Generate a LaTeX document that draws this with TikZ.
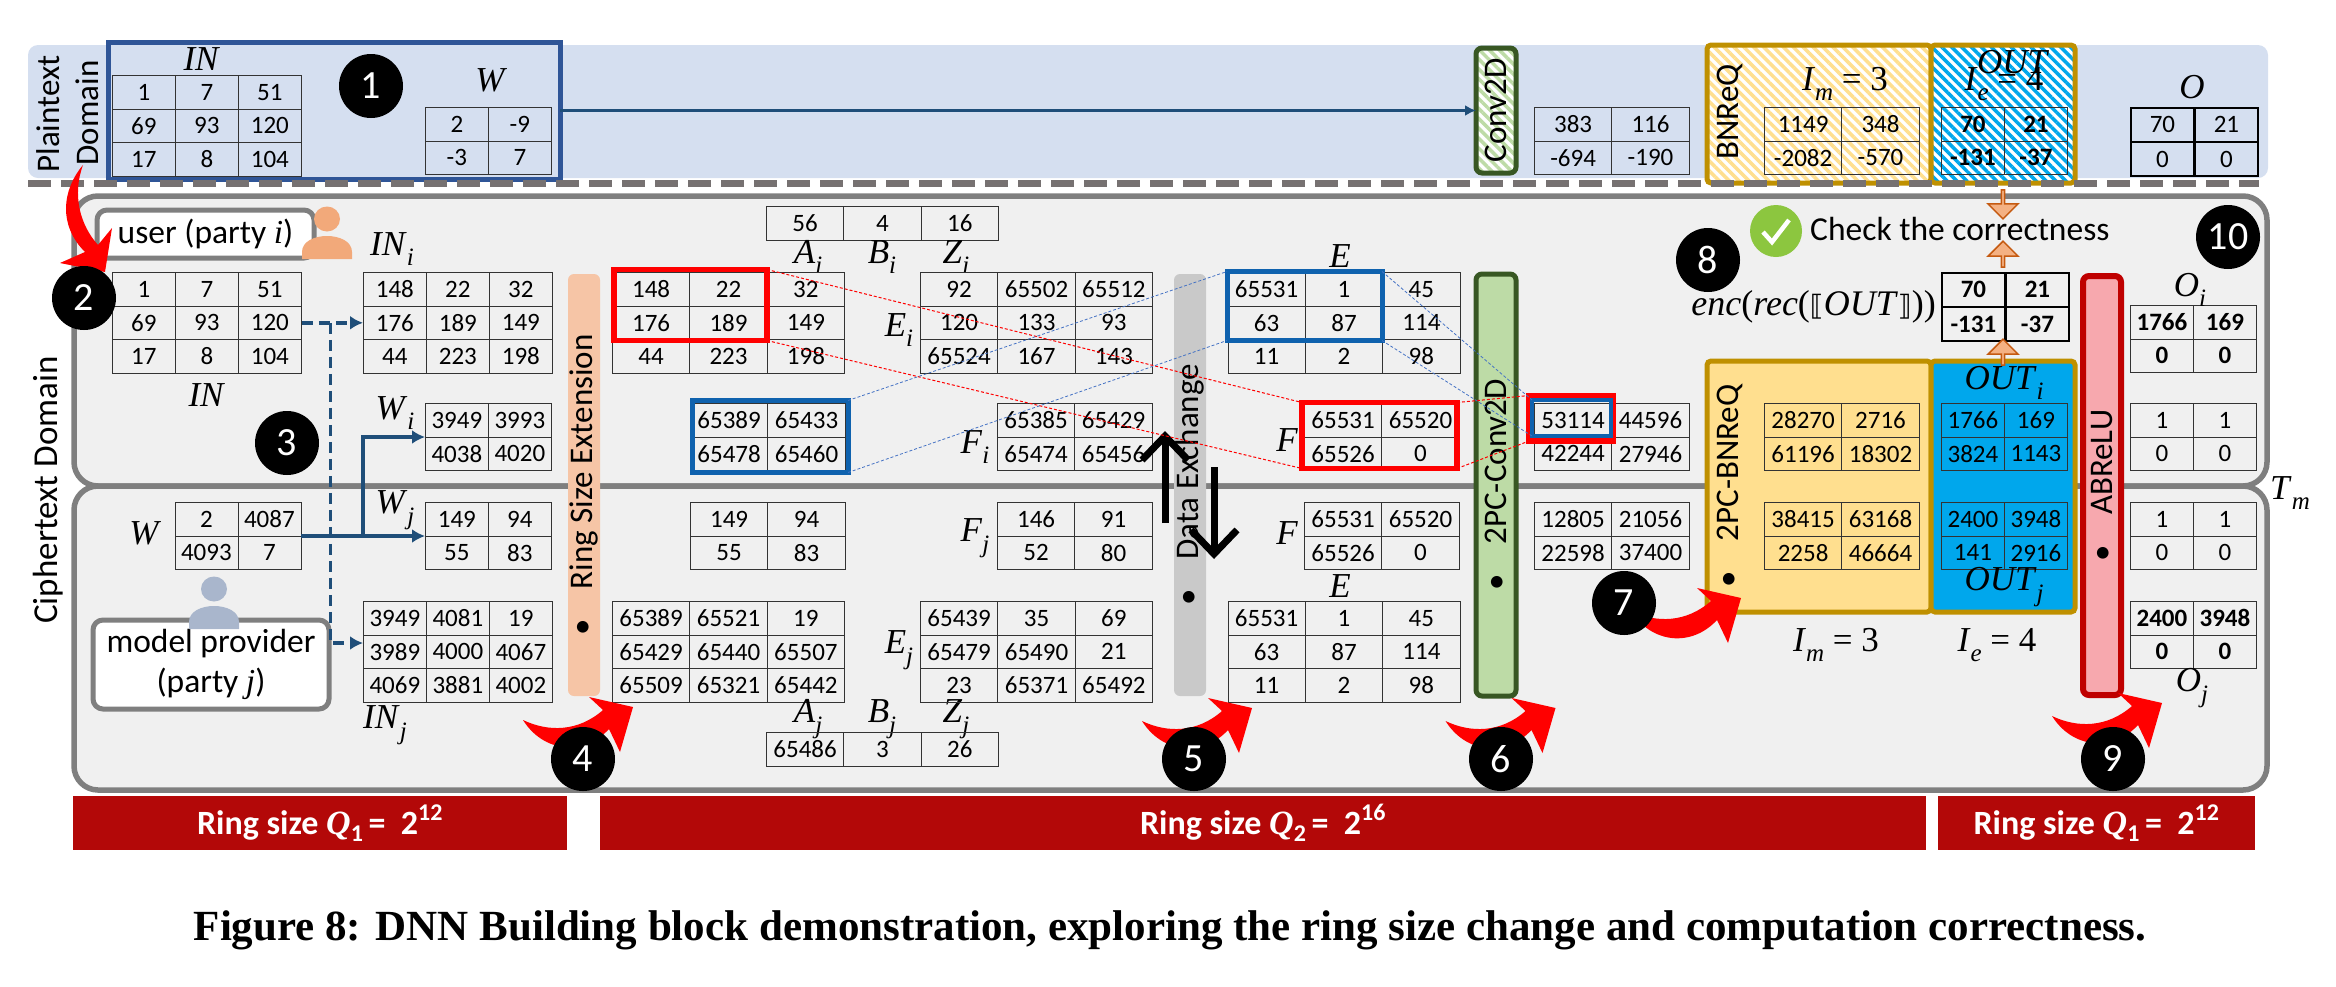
\documentclass[tikz,border=0pt]{standalone}
\usepackage{fontspec}
\setmainfont{Carlito}
\newfontfamily\symfont{Liberation Serif}
\newfontfamily\bracketfont{DejaVu Sans}
\usetikzlibrary{shapes.geometric}
\usetikzlibrary{shapes.arrows}
\usetikzlibrary{positioning}
\usetikzlibrary{arrows.meta}
\usetikzlibrary{matrix}
\usetikzlibrary{patterns.meta}

\definecolor{bandblue}{HTML}{D5DFF0}
\definecolor{boxblue}{HTML}{2F5597}
\definecolor{linkblue}{HTML}{1F4E79}
\definecolor{domaingray}{HTML}{7F7F7F}
\definecolor{panelgray}{HTML}{F0F0F0}
\definecolor{dashgray}{HTML}{767171}
\definecolor{gold}{HTML}{BF9000}
\definecolor{softyellow}{HTML}{FFDF8F}
\definecolor{skyblue}{HTML}{00A7EC}
\definecolor{hlblue}{HTML}{0F62AE}
\definecolor{guideblue}{HTML}{4472C4}
\definecolor{peach}{HTML}{F6C5A6}
\definecolor{barpink}{HTML}{F7A8AE}
\definecolor{bargreen}{HTML}{BDDBA6}
\definecolor{darkgreen}{HTML}{385723}
\definecolor{bargray}{HTML}{C9C9C9}
\definecolor{ringred}{HTML}{B30808}
\definecolor{orangefill}{HTML}{F4B183}
\definecolor{orangeline}{HTML}{C55A11}
\definecolor{checkgreen}{HTML}{8CC63F}
\definecolor{userorange}{HTML}{F2A97A}
\definecolor{usergray}{HTML}{A9B6CC}

\newcommand{\symsub}[2]{{\symfont\textit{#1}\raisebox{-.3em}{\fontsize{25}{25}\selectfont\textit{#2}}}}
\newcommand{\ringlabel}[2]{Ring size {\symfont\textit{Q}}\raisebox{-.2em}{\fontsize{24}{24}\selectfont #1}\,=\ \ 2\raisebox{.42em}{\fontsize{24}{24}\selectfont #2}}

\begin{document}
\begin{tikzpicture}[x=1pt,y=-1pt]
	\tikzset{
		grid/.style={matrix of nodes, anchor=north west, inner sep=0pt, outer sep=0pt, row sep=-0.8pt, column sep=-0.8pt,
			nodes={draw=black!80, line width=0.8pt, minimum height=33.6pt, inner sep=0pt, outer sep=0pt, anchor=center, font=\fontsize{25}{30}\selectfont}},
		narrow/.style={nodes={minimum width=63pt}},
		wide/.style={nodes={minimum width=77.4pt}},
		boldcell/.style={nodes={font=\fontsize{25}{30}\selectfont\bfseries}},
		heavycell/.style={nodes={line width=1.8pt, draw=black}},
		box/.style={rectangle, anchor=north west, outer sep=0pt, inner sep=0pt},
		panel/.style={box, rounded corners=24pt, draw=domaingray, line width=5.5pt, fill=panelgray},
		goldbox/.style={box, rounded corners=4pt, draw=gold, line width=5pt},
		hatchyellow/.style={preaction={fill=white}, pattern={Lines[angle=-45,distance=7pt,line width=3.5pt]}, pattern color=softyellow},
		hatchblue/.style={preaction={fill=white}, pattern={Lines[angle=-45,distance=7pt,line width=3.5pt]}, pattern color=skyblue},
		hatchgreen/.style={preaction={fill=white}, pattern={Lines[angle=-45,distance=7pt,line width=3.5pt]}, pattern color=bargreen},
		hlred/.style={box, draw=red, line width=5.5pt},
		hlbluebox/.style={box, draw=hlblue, line width=5pt},
		opbar/.style={box, rounded corners=6pt},
		vtext/.style={rotate=90, inner sep=0pt, font=\fontsize{33}{36}\selectfont},
		sym/.style={inner sep=0pt, font=\fontsize{35}{38}\selectfont\symfont\itshape},
		plainsym/.style={inner sep=0pt, font=\fontsize{35}{38}\selectfont\symfont},
		stepcirc/.style={circle, fill=black, text=white, minimum size=64pt, inner sep=0pt, font=\fontsize{40}{40}\selectfont},
		actor/.style={box, rounded corners=10pt, draw=domaingray, line width=5pt, fill=white, align=center, font=\fontsize{33.5}{40}\selectfont},
		ringbar/.style={box, fill=ringred, text=white, minimum height=54pt, font=\fontsize{34}{36}\selectfont\bfseries},
		blockarrow/.style={single arrow, single arrow head extend=6pt, inner sep=0pt, minimum width=30pt, fill=orangefill, draw=orangeline, line width=1.5pt},
		dashlink/.style={line width=3.5pt, color=linkblue, dash pattern=on 11pt off 6pt, -{Latex[length=13pt,width=14pt]}},
		solidlink/.style={line width=4pt, color=linkblue, -{Latex[length=13pt,width=14pt]}},
		exchange/.style={line width=7pt, -{Straight Barb[length=24pt,width=46pt,line width=7pt]}},
		redlink/.style={densely dashed, line width=1pt, color=red},
		bluelink/.style={densely dashed, line width=0.8pt, color=guideblue},
		redcurve/.pic={\fill[red] (-110,13) .. controls (-85,25) and (-55,25) .. (-30,3) -- (-44,-10) -- (0,0) -- (-13,45) -- (-24,22) .. controls (-50,50) and (-90,45) .. cycle;},
		personfig/.pic={\fill[#1] (0,0) ellipse (13pt and 12.5pt); \fill[#1] (-25,40) -- (-25,33) .. controls (-25,22) and (-12,17) .. (0,17) .. controls (12,17) and (25,22) .. (25,33) -- (25,40) -- cycle;},
	}
	\useasboundingbox (0,0) rectangle (2336,986);

	% plaintext row
	\node[box, rounded corners=10pt, fill=bandblue, minimum width=2240pt, minimum height=133pt] (plainband) at (28,45) {};
	\node[box, draw=boxblue, line width=5pt, minimum width=452pt, minimum height=137pt] (plainin) at (108,42) {};
	\node[vtext] (plainlabel) at (48,114) {Plaintext};
	\node[vtext] (domainlabel) at (87,113) {Domain};
	\matrix[grid, narrow] (tINp) at (112,75) {1 & 7 & 51\\ 69 & 93 & 120\\ 17 & 8 & 104\\};
	\matrix[grid, narrow] (tWp) at (425,107) {2 & -9\\ -3 & 7\\};
	\node[sym] (lINp) at (201,59) {IN};
	\node[sym] (lWp) at (490,80) {W};
	\node[box, opbar, draw=darkgreen, line width=5pt, hatchgreen, minimum width=40pt, minimum height=125pt] (conv) at (1476,48) {};
	\node[vtext] (convlabel) at (conv) {Conv2D};
	\draw[line width=2.5pt, color=linkblue, -{Latex[length=11pt,width=11pt]}] (plainin.east) -- (conv.west);
	\matrix[grid, wide] (tConvp) at (1534,107) {383 & 116\\ -694 & -190\\};
	\node[goldbox, hatchyellow, minimum width=224pt, minimum height=138pt] (bnp) at (1707,45) {};
	\node[goldbox, hatchblue, minimum width=144pt, minimum height=138pt] (outp) at (1931,45) {};
	\node[vtext] (bnplabel) at (1730,112) {BNReQ};
	\matrix[grid, wide] (tBNp) at (1764,107) {1149 & 348\\ -2082 & -570\\};
	\matrix[grid, narrow, boldcell] (tOUTp) at (1941,107) {70 & 21\\ -131 & -37\\};
	\node[plainsym] (lImp) at (1845,84) {\symsub{I}{m} = 3};
	\node[sym] (lOUTp) at (2012,62) {OUT};
	\node[plainsym] (lIep) at (2004,84) {\symsub{I}{e} = 4};
	\matrix[grid, narrow, heavycell] (tOp) at (2130,107) {70 & 21\\ 0 & 0\\};
	\node[sym] (lOp) at (2192,87) {O};

	% ciphertext panels
	\node[panel, minimum width=2193pt, minimum height=290pt] (partyi) at (74,196) {};
	\node[panel, minimum width=2193pt, minimum height=304pt] (partyj) at (74,486) {};
	\node[vtext, font=\fontsize{35}{38}\selectfont] (cipherlabel) at (48,490) {Ciphertext Domain};
	\draw[dashgray, line width=7pt, dash pattern=on 23pt off 10pt] (28,183) -- (2259,183);

	\node[box, actor, minimum width=217pt, minimum height=48pt] (user) at (97,210) {user (party {\symfont\textit{i}})};
	\pic at (327,219) {personfig=userorange};
	\node[box, actor, minimum width=236pt, minimum height=89pt] (provider) at (93,620) {model provider\\(party {\symfont\textit{j}})};
	\pic at (214,589) {personfig=usergray};

	\matrix[grid, narrow] (tIN) at (112,272) {1 & 7 & 51\\ 69 & 93 & 120\\ 17 & 8 & 104\\};
	\node[sym] (lIN) at (206,395) {IN};
	\matrix[grid, narrow] (tINi) at (363,272) {148 & 22 & 32\\ 176 & 189 & 149\\ 44 & 223 & 198\\};
	\node[plainsym] (lINi) at (392,249) {\symsub{IN}{i}};
	\matrix[grid, narrow] (tWi) at (425,403) {3949 & 3993\\ 4038 & 4020\\};
	\node[plainsym] (lWi) at (395,413) {\symsub{W}{i}};
	\matrix[grid, narrow] (tW) at (174.5,502) {2 & 4087\\ 4093 & 7\\};
	\node[sym] (lW) at (144,533) {W};
	\matrix[grid, narrow] (tWj) at (425,502) {149 & 94\\ 55 & 83\\};
	\node[plainsym] (lWj) at (395,510) {\symsub{W}{j}};
	\matrix[grid, narrow] (tINj) at (363,601) {3949 & 4081 & 19\\ 3989 & 4000 & 4067\\ 4069 & 3881 & 4002\\};
	\node[plainsym] (lINj) at (385,725) {\symsub{IN}{j}};

	\coordinate (dashjoin) at (330.6,643);
	\coordinate (solidjoin) at (363,535);
	\draw[dashlink] (tIN.east) -- (tINi.west);
	\draw[dashlink] (tIN.east -| dashjoin) -- (dashjoin) -- (dashjoin -| tINj.west);
	\draw[solidlink] (tW.east) -- (tWj.west);
	\draw[solidlink] (solidjoin) |- (tWi.west);

	\node[opbar, fill=peach, minimum width=32pt, minimum height=422pt] (ringext) at (568,274) {};
	\node[vtext] (ringlabel) at (ringext) {\textbullet\hspace{30pt}Ring Size Extension};

	\matrix[grid, wide] (tABZi) at (766,206) {56 & 4 & 16\\};
	\node[plainsym] (lAi) at (808,257) {\symsub{A}{i}};
	\node[plainsym] (lBi) at (882,257) {\symsub{B}{i}};
	\node[plainsym] (lZi) at (956,257) {\symsub{Z}{i}};
	\matrix[grid, wide] (tXi) at (612,272) {148 & 22 & 32\\ 176 & 189 & 149\\ 44 & 223 & 198\\};
	\matrix[grid, wide] (tYi) at (690,403) {65389 & 65433\\ 65478 & 65460\\};
	\matrix[grid, wide] (tYj) at (690,502) {149 & 94\\ 55 & 83\\};
	\matrix[grid, wide] (tXj) at (612,601) {65389 & 65521 & 19\\ 65429 & 65440 & 65507\\ 65509 & 65321 & 65442\\};
	\node[plainsym] (lAj) at (808,719) {\symsub{A}{j}};
	\node[plainsym] (lBj) at (882,719) {\symsub{B}{j}};
	\node[plainsym] (lZj) at (956,719) {\symsub{Z}{j}};
	\matrix[grid, wide] (tABZj) at (766,732) {65486 & 3 & 26\\};

	\matrix[grid, wide] (tEi) at (920,272) {92 & 65502 & 65512\\ 120 & 133 & 93\\ 65524 & 167 & 143\\};
	\node[plainsym] (lEi) at (899,330) {\symsub{E}{i}};
	\matrix[grid, wide] (tFi) at (997,403) {65385 & 65429\\ 65474 & 65456\\};
	\node[plainsym] (lFi) at (975,447) {\symsub{F}{i}};
	\matrix[grid, wide] (tFj) at (997,502) {146 & 91\\ 52 & 80\\};
	\node[plainsym] (lFj) at (975,538) {\symsub{F}{j}};
	\matrix[grid, wide] (tEj) at (920,601) {65439 & 35 & 69\\ 65479 & 65490 & 21\\ 23 & 65371 & 65492\\};
	\node[plainsym] (lEj) at (899,650) {\symsub{E}{j}};

	\node[opbar, fill=bargray, minimum width=32pt, minimum height=422pt] (exbar) at (1174,274) {};
	\node[vtext] (exlabel) at (exbar) {\textbullet\hspace{30pt}Data Exchange};
	\coordinate (upstart) at (1165,523);
	\coordinate (downstart) at (1214,467);
	\draw[exchange] (upstart) -- ++(0,-92);
	\draw[exchange] (downstart) -- ++(0,92);

	\matrix[grid, wide] (tE) at (1227.5,272) {65531 & 1 & 45\\ 63 & 87 & 114\\ 11 & 2 & 98\\};
	\node[sym] (lE) at (1340,256) {E};
	\matrix[grid, wide] (tF) at (1304,403) {65531 & 65520\\ 65526 & 0\\};
	\node[sym] (lF) at (1287,440) {F};
	\matrix[grid, wide] (tFb) at (1304,502) {65531 & 65520\\ 65526 & 0\\};
	\node[sym] (lFb) at (1287,533) {F};
	\matrix[grid, wide] (tEb) at (1227.5,601) {65531 & 1 & 45\\ 63 & 87 & 114\\ 11 & 2 & 98\\};
	\node[sym] (lEb) at (1340,586) {E};

	\node[opbar, draw=darkgreen, line width=5pt, fill=bargreen, minimum width=40pt, minimum height=422pt] (convbar) at (1476,274) {};
	\node[vtext] (convbarlabel) at (convbar) {\textbullet\hspace{30pt}2PC-Conv2D};

	\matrix[grid, wide] (tC) at (1534,403) {53114 & 44596\\ 42244 & 27946\\};
	\matrix[grid, wide] (tCb) at (1534,502) {12805 & 21056\\ 22598 & 37400\\};

	\node[goldbox, fill=softyellow, minimum width=224pt, minimum height=251pt] (bnc) at (1707,361) {};
	\node[goldbox, fill=skyblue, minimum width=144pt, minimum height=251pt] (outc) at (1931,361) {};
	\node[vtext] (bnclabel) at (1730,486) {\textbullet\hspace{30pt}2PC-BNReQ};
	\matrix[grid, wide] (tBa) at (1764,403) {28270 & 2716\\ 61196 & 18302\\};
	\matrix[grid, wide] (tBb) at (1764,502) {38415 & 63168\\ 2258 & 46664\\};
	\matrix[grid, narrow] (tOUTi) at (1941,403) {1766 & 169\\ 3824 & 1143\\};
	\matrix[grid, narrow] (tOUTj) at (1941,502) {2400 & 3948\\ 141 & 2916\\};
	\node[plainsym] (lOUTi) at (2004,383) {\symsub{OUT}{i}};
	\node[plainsym] (lOUTj) at (2004,587) {\symsub{OUT}{j}};
	\node[plainsym] (lIm) at (1836,645) {\symsub{I}{m} = 3};
	\node[plainsym] (lIe) at (1997,645) {\symsub{I}{e} = 4};

	\matrix[grid, narrow, boldcell, heavycell] (tCheck) at (1941,272) {70 & 21\\ -131 & -37\\};
	\node[plainsym, anchor=east, font=\fontsize{36}{38}\selectfont\symfont] (lEnc) at (1936,307) {\textit{enc}(\textit{rec}({\bracketfont\fontsize{28}{30}\selectfont ⟦}\textit{OUT}{\bracketfont\fontsize{28}{30}\selectfont ⟧}))};
	\node[circle, fill=checkgreen, minimum size=52pt, inner sep=0pt] (checkmark) at (1776,231) {};
	\draw[white, line width=4.5pt] (checkmark.center) ++(-13,1) -- ++(9,10) -- ++(17,-22);
	\node[anchor=west, inner sep=0pt, font=\fontsize{33.5}{36}\selectfont] (checktext) at (1810,229) {Check the correctness};
	\node[blockarrow, rotate=-90, minimum height=29pt] (arrowdown) at (2003,203.5) {};
	\node[blockarrow, rotate=90, minimum height=26pt] (arrowupa) at (2003,255) {};
	\node[blockarrow, rotate=90, minimum height=26pt] (arrowupb) at (2003,353) {};

	\node[opbar, draw=red!75!black, line width=6pt, fill=barpink, minimum width=38pt, minimum height=419pt] (abrelu) at (2083,276) {};
	\node[vtext] (abrelulabel) at (abrelu) {\textbullet\hspace{30pt}ABReLU};
	\matrix[grid, narrow, boldcell] (tOi) at (2130,305) {1766 & 169\\ 0 & 0\\};
	\node[plainsym] (lOi) at (2190,290) {\symsub{O}{i}};
	\matrix[grid, narrow] (tOia) at (2130,403) {1 & 1\\ 0 & 0\\};
	\matrix[grid, narrow] (tOja) at (2130,502) {1 & 1\\ 0 & 0\\};
	\matrix[grid, narrow, boldcell] (tOj) at (2130,601) {2400 & 3948\\ 0 & 0\\};
	\node[plainsym] (lOj) at (2192,688) {\symsub{O}{j}};
	\node[plainsym] (lTm) at (2290,493) {\symsub{T}{m}};

	% highlights and their guide lines
	\node[hlred, minimum width=153pt, minimum height=71pt] (redA) at (614,269.5) {};
	\node[hlbluebox, minimum width=156pt, minimum height=72pt] (blueB) at (692,400.5) {};
	\node[hlbluebox, minimum width=155pt, minimum height=69pt] (blueE) at (1227,271.5) {};
	\node[hlred, minimum width=155pt, minimum height=66pt] (redF) at (1302,402.5) {};
	\node[hlred, minimum width=84pt, minimum height=45.5pt] (redC) at (1529,395.5) {};
	\node[hlbluebox, line width=4.5pt, minimum width=79pt, minimum height=36pt] (blueC) at (1532,400) {};
	\draw[redlink] (redA.north east) -- (redF.north west);
	\draw[redlink] (redA.south east) -- (redF.south west);
	\draw[redlink] (redF.north east) -- (redC.north west);
	\draw[redlink] (redF.south east) -- (redC.south west);
	\draw[bluelink] (blueB.north east) -- (blueE.north west);
	\draw[bluelink] (blueB.south east) -- (blueE.south west);
	\draw[bluelink] (blueE.north east) -- (blueC.north west);
	\draw[bluelink] (blueE.south east) -- (blueC.south west);

	\fill[red] (83,165) .. controls (62,190) and (58,225) .. (85,252) -- (60,263) -- (105,272) -- (112,228) -- (98,245) .. controls (80,225) and (72,195) .. (83,165);
	\pic at (633,707) {redcurve};
	\pic at (1252,708) {redcurve};
	\pic at (1555.5,708) {redcurve};
	\pic at (1741,598) {redcurve};
	\pic at (2162,703) {redcurve};

	\node[stepcirc] (s1) at (371,86) {1};
	\node[stepcirc] (s2) at (84,298) {2};
	\node[stepcirc] (s3) at (287,443) {3};
	\node[stepcirc] (s4) at (583,759) {4};
	\node[stepcirc] (s5) at (1194,759) {5};
	\node[stepcirc] (s6) at (1501,759) {6};
	\node[stepcirc] (s7) at (1624,603) {7};
	\node[stepcirc] (s8) at (1708,260) {8};
	\node[stepcirc] (s9) at (2113,759) {9};
	\node[stepcirc] (s10) at (2228,237) {10};

	\node[ringbar, minimum width=494.5pt] (ringa) at (72.5,796) {\ringlabel{1}{12}};
	\node[ringbar, minimum width=1326.5pt] (ringb) at (599.5,796) {\ringlabel{2}{16}};
	\node[ringbar, minimum width=317.5pt] (ringc) at (1937.5,796) {\ringlabel{1}{12}};

	\node[inner sep=0pt, font=\fontsize{43}{46}\selectfont\symfont\bfseries] (caption) at (1170,930) {Figure 8: DNN Building block demonstration, exploring the ring size change and computation correctness.};
\end{tikzpicture}
\end{document}
